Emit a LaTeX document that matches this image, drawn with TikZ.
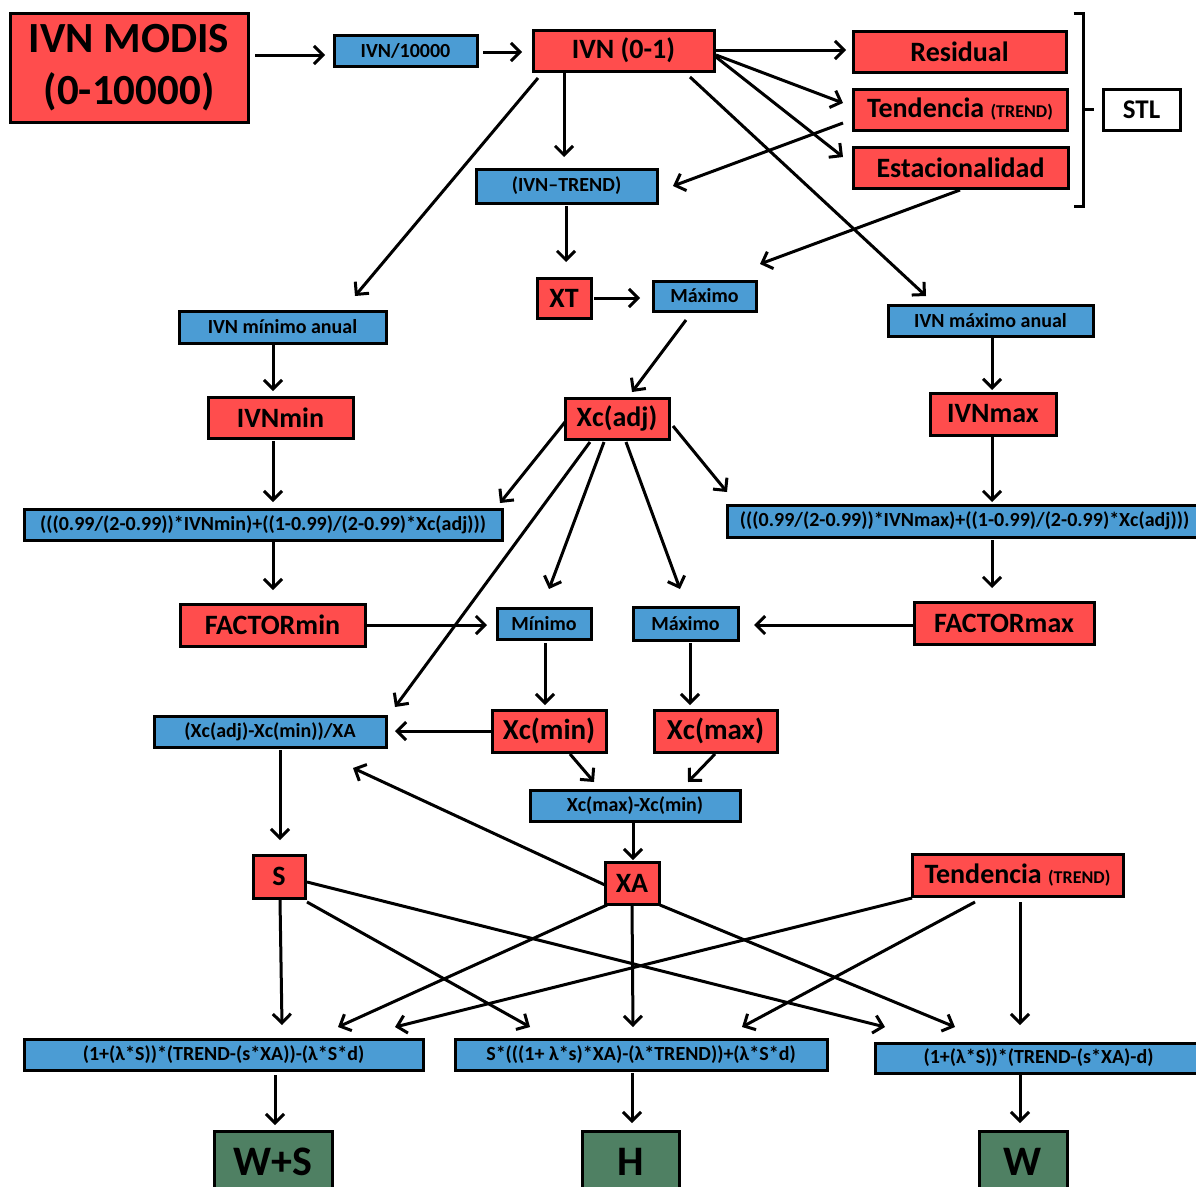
\documentclass[tikz,border=0pt]{standalone}
\usepackage{fontspec}
\setmainfont{Carlito}
\usetikzlibrary{arrows.meta,calc}
\definecolor{cred}{RGB}{255,77,77}
\definecolor{cblue}{RGB}{75,156,212}
\definecolor{cgreen}{RGB}{79,128,99}
\tikzset{
  bx/.style={draw=black, line width=3pt, inner sep=0pt, align=center},
  redbox/.style={bx, fill=cred, font=\fontsize{28}{30}\selectfont\bfseries},
  bluebox/.style={bx, fill=cblue, font=\fontsize{20}{22}\selectfont\bfseries},
  fbox/.style={bx, fill=cblue, font=\fontsize{20}{22}\selectfont\bfseries},
  greenbox/.style={bx, fill=cgreen, font=\fontsize{42}{44}\selectfont\bfseries},
  arr/.style={line width=3pt, -{Straight Barb[length=9pt,width=18pt]}},
  sz/.style 2 args={minimum width=#1pt, minimum height=#2pt}
}
\newcommand{\trendsm}{{\fontsize{18}{18}\selectfont(TREND)}}
\newcommand{\conn}[4]{\draw[arr] ($(#1)+(#2)$) -- ($(#3)+(#4)$);}
\begin{document}
\begin{tikzpicture}[x=1pt,y=-1pt]
\clip (0,0) rectangle (1196,1186);
\fill[white] (0,0) rectangle (1196,1186);
% nodes
\node[redbox, sz={238}{109}, font=\fontsize{43}{52}\selectfont\bfseries] (modis) at (129,67.5) {IVN MODIS\\(0-10000)};
\node[bluebox, sz={143}{31}] (ivn10k) at (405.5,50.5) {IVN/10000};
\node[redbox, sz={181}{41}] (ivn01) at (623.5,50.5) {IVN (0-1)};
\node[redbox, sz={213}{41}] (resid) at (959.5,51.5) {Residual};
\node[redbox, sz={214}{41}] (tend) at (960,109.5) {Tendencia \trendsm};
\node[redbox, sz={215}{41}] (estac) at (960.5,167.5) {Estacionalidad};
\node[bx, fill=white, sz={77}{41}, font=\fontsize{27}{29}\selectfont\bfseries] (stl) at (1141.5,109.5) {STL};
\node[bluebox, sz={181}{34}] (ivntrend) at (566.5,186) {(IVN--TREND)};
\node[redbox, sz={54}{40}] (xt) at (564,298) {XT};
\node[bluebox, sz={103}{30}] (max1) at (704.5,296) {Máximo};
\node[bluebox, sz={207}{32}] (minanual) at (282.5,327) {IVN mínimo anual};
\node[bluebox, sz={205}{31}] (maxanual) at (990.5,320.5) {IVN máximo anual};
\node[redbox, sz={145}{41}] (ivnmin) at (280.5,417.5) {IVNmin};
\node[redbox, sz={104}{41}] (xcadj) at (617,418.5) {Xc(adj)};
\node[redbox, sz={126}{42}] (ivnmax) at (993,414) {IVNmax};
\node[bluebox, sz={478}{31}] (fmin) at (263,524.5) {(((0.99/(2-0.99))*IVNmin)+((1-0.99)/(2-0.99)*Xc(adj)))};
\node[bluebox, sz={475}{32}] (fmax) at (964.5,521) {(((0.99/(2-0.99))*IVNmax)+((1-0.99)/(2-0.99)*Xc(adj)))};
\node[redbox, sz={185}{42}] (factormin) at (272.5,625) {FACTORmin};
\node[bluebox, sz={94}{31}] (minimo) at (544,623.5) {Mínimo};
\node[bluebox, sz={105}{33}] (max2) at (685.5,623.5) {Máximo};
\node[redbox, sz={180}{42}] (factormax) at (1004,623) {FACTORmax};
\node[bluebox, sz={232}{31}] (xcratio) at (270,731.5) {(Xc(adj)-Xc(min))/XA};
\node[redbox, sz={114}{42}, font=\fontsize{29}{31}\selectfont\bfseries] (xcmin) at (549,731) {Xc(min)};
\node[redbox, sz={123}{42}, font=\fontsize{29}{31}\selectfont\bfseries] (xcmax) at (715.5,731) {Xc(max)};
\node[bluebox, sz={210}{31}] (xcdiff) at (635,805.5) {Xc(max)-Xc(min)};
\node[redbox, sz={52}{43}] (S) at (279,876.5) {S};
\node[redbox, sz={54}{42}] (XA) at (632,883) {XA};
\node[redbox, sz={211}{42}] (tend2) at (1017.5,875) {Tendencia \trendsm};
\node[fbox, sz={399}{31}] (fws) at (223.5,1054.5) {(1+(λ*S))*(TREND-(s*XA))-(λ*S*d)};
\node[fbox, sz={372}{31}] (fh) at (641,1054.5) {S*(((1+ λ*s)*XA)-(λ*TREND))+(λ*S*d)};
\node[fbox, sz={327}{30}] (fw) at (1038.5,1058) {(1+(λ*S))*(TREND-(s*XA)-d)};
\node[greenbox, sz={118}{61}] (ws) at (273,1161.5) {W+S};
\node[greenbox, sz={97}{61}] (hh) at (630.5,1161.5) {H};
\node[greenbox, sz={88}{61}] (ww) at (1023,1161.5) {W};
% STL bracket
\draw[line width=3pt] ($(stl.west)+(-28,-96.5)$) -- ($(stl.west)+(-18,-96.5)$) -- ($(stl.west)+(-18,96.5)$) -- ($(stl.west)+(-28,96.5)$);
\draw[line width=3pt] ($(stl.west)+(-18,0)$) -- ($(stl.west)+(-8,0)$);
% connectors
\conn{modis}{126,-12.5}{ivn10k}{-80.5,4.5}
\conn{ivn10k}{77.5,1.5}{ivn01}{-101.5,1.5}
\conn{ivn01}{92.5,-0.5}{resid}{-113.5,-1.5}
\conn{ivn01}{92.5,4.5}{tend}{-117,-6.5}
\conn{ivn01}{92.5,6.5}{estac}{-117.5,-10.5}
\conn{ivn01}{-85.5,27.5}{minanual}{72.5,-31}
\conn{ivn01}{-59.5,22.5}{ivntrend}{-2.5,-29}
\conn{ivn01}{66.5,26.5}{maxanual}{-64.5,-24.5}
\conn{tend}{-117,13.5}{ivntrend}{106.5,0}
\conn{estac}{-0.5,22.5}{max1}{55.5,-32}
\conn{ivntrend}{-0.5,20}{xt}{2,-36}
\conn{xt}{30,0}{max1}{-64.5,2}
\conn{max1}{-18.5,24}{xcadj}{15,-26.5}
\conn{minanual}{-9.5,18}{ivnmin}{-7.5,-26.5}
\conn{maxanual}{1.5,17.5}{ivnmax}{-1,-24}
\conn{ivnmin}{-7.5,23.5}{fmin}{10,-22.5}
\conn{ivnmax}{-1,23}{fmax}{27.5,-19}
\conn{xcadj}{-52,3.5}{fmin}{237,-21.5}
\conn{xcadj}{56,7.5}{fmax}{-237.5,-29}
\conn{xcadj}{-13,23.5}{minimo}{5,-34.5}
\conn{xcadj}{9,23.5}{max2}{-5.5,-34.5}
\conn{xcadj}{-27,23.5}{xcratio}{125,-24.5}
\conn{fmin}{10,17.5}{factormin}{0.5,-35}
\conn{fmax}{27.5,19}{factormax}{-12,-35}
\conn{factormin}{94.5,0}{minimo}{-57,1.5}
\conn{factormax}{-91,2}{max2}{68.5,1.5}
\conn{minimo}{1,19.5}{xcmin}{-4,-26}
\conn{max2}{4.5,19.5}{xcmax}{-25.5,-26}
\conn{xcmin}{-57,0}{xcratio}{125,-0.5}
\conn{xcmin}{21,23}{xcdiff}{-41,-23.5}
\conn{xcmax}{-0.5,23}{xcdiff}{53,-23.5}
\conn{xcdiff}{-2,17.5}{XA}{1,-23}
\conn{XA}{-27,2}{xcratio}{83,36.5}
\conn{xcratio}{10,18.5}{S}{1,-36.5}
\conn{S}{1,23.5}{fws}{58.5,-29.5}
\conn{S}{28,25.5}{fh}{-111,-27.5}
\conn{S}{28,5.5}{fw}{-153.5,-31}
\conn{XA}{-25,22}{fws}{114.5,-27.5}
\conn{XA}{0,22}{fh}{-8,-27.5}
\conn{XA}{28,22}{fw}{-83.5,-31}
\conn{tend2}{-105.5,23}{fws}{171.5,-27.5}
\conn{tend2}{-42.5,27}{fh}{101,-27.5}
\conn{tend2}{2.5,27}{fw}{-18.5,-33}
\conn{fws}{51.5,20.5}{ws}{2,-36.5}
\conn{fh}{-9,18.5}{hh}{1.5,-38.5}
\conn{fw}{-18.5,17}{ww}{-3,-38.5}
\end{tikzpicture}
\end{document}
